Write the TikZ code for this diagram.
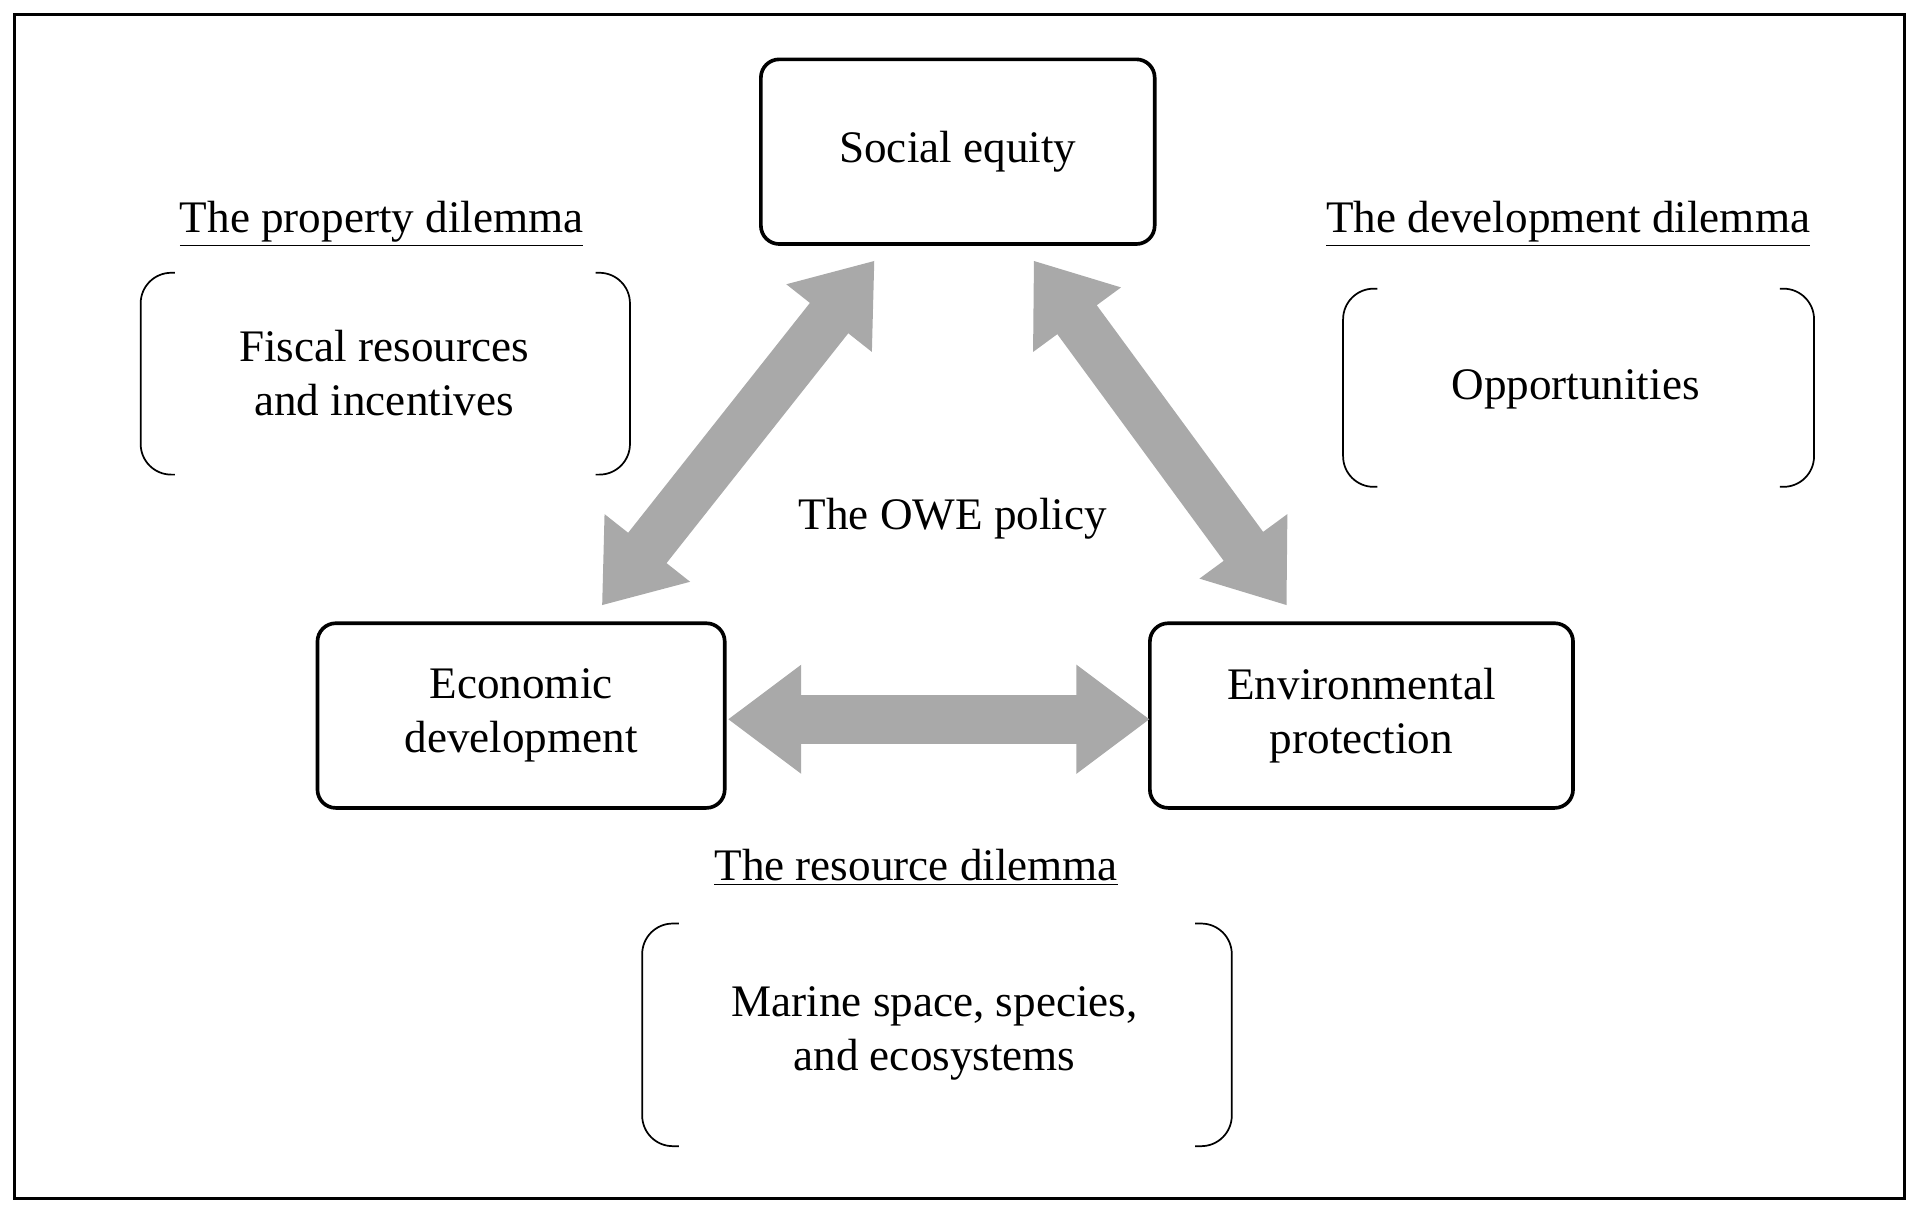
\documentclass[tikz,border=0pt]{standalone}
\usepackage{fontspec}
\setmainfont{Liberation Serif}
\usetikzlibrary{arrows.meta}
\definecolor{arrgray}{HTML}{A9A9A9}
\tikzset{
  box/.style={draw,line width=1.7pt,rounded corners=0.3cm,minimum height=3.02cm,inner sep=0pt,align=center,font=\fontsize{21}{25}\selectfont},
  lbl/.style={font=\fontsize{21}{25}\selectfont,align=center},
  ttl/.style={font=\fontsize{21}{25}\selectfont},
  fat/.style={draw=arrgray,line width=0.8cm,{Triangle[width=1.7cm,length=1.2cm]}-{Triangle[width=1.7cm,length=1.2cm]}},
  brk/.style={line width=0.8pt,rounded corners=0.5cm}
}
\begin{document}
\begin{tikzpicture}[x=0.02cm,y=-0.02cm]
\useasboundingbox (0,0) rectangle (1568,990);
\draw[line width=1.5pt] (12,12) rectangle (1557,980);
\node[box,minimum width=6.44cm] (soc) at (783,124) {Social equity};
\node[box,minimum width=6.66cm] (eco) at (426,585) {Economic\\development};
\node[box,minimum width=6.92cm] (env) at (1113,585) {Environmental\\protection};
\coordinate (a1) at (715,213); \coordinate (a2) at (492,495);
\coordinate (b1) at (845,213); \coordinate (b2) at (1052,495);
\coordinate (c1) at (595,588); \coordinate (c2) at (940,588);
\draw[fat] (a1) -- (a2);
\draw[fat] (b1) -- (b2);
\draw[fat] (c1) -- (c2);
\node[lbl] (owe) at (779,424) {The OWE policy};
\node[ttl] (t1) at (312,183) {\underline{The property dilemma}};
\node[ttl] (t2) at (1282,183) {\underline{The development dilemma}};
\node[ttl] (t3) at (749,709) {\underline{The resource dilemma}};
\node[lbl] (n1) at (314,305) {Fiscal resources\\and incentives};
\node[lbl] (n2) at (1288,318) {Opportunities};
\node[lbl] (n3) at (764,845) {Marine space, species,\\and ecosystems};
\draw[brk] (143,223) -- (115,223) -- (115,388) -- (143,388);
\draw[brk] (487,223) -- (515,223) -- (515,388) -- (487,388);
\draw[brk] (1126,236) -- (1098,236) -- (1098,398) -- (1126,398);
\draw[brk] (1455,236) -- (1483,236) -- (1483,398) -- (1455,398);
\draw[brk] (555,755) -- (525,755) -- (525,937) -- (555,937);
\draw[brk] (977,755) -- (1007,755) -- (1007,937) -- (977,937);
\end{tikzpicture}
\end{document}
